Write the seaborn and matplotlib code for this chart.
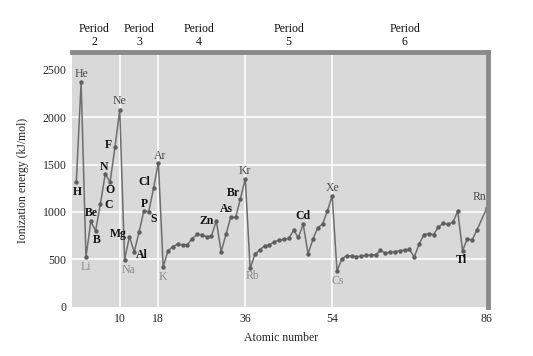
import matplotlib
matplotlib.use("Agg")
import matplotlib.pyplot as plt
import seaborn as sns
import pandas as pd

# ---- data ----
atomic_numbers = list(range(1, 85)) + [86]
symbols = ["H", "He", "Li", "Be", "B", "C", "N", "O", "F", "Ne",
           "Na", "Mg", "Al", "Si", "P", "S", "Cl", "Ar",
           "K", "Ca", "Sc", "Ti", "V", "Cr", "Mn", "Fe", "Co", "Ni", "Cu", "Zn",
           "Ga", "Ge", "As", "Se", "Br", "Kr",
           "Rb", "Sr", "Y", "Zr", "Nb", "Mo", "Tc", "Ru", "Rh", "Pd", "Ag", "Cd",
           "In", "Sn", "Sb", "Te", "I", "Xe",
           "Cs", "Ba", "La", "Ce", "Pr", "Nd", "Pm", "Sm", "Eu", "Gd", "Tb", "Dy",
           "Ho", "Er", "Tm", "Yb", "Lu", "Hf", "Ta", "W", "Re", "Os", "Ir", "Pt",
           "Au", "Hg", "Tl", "Pb", "Bi", "Po", "Rn"]
ionization_energy = [1312, 2372, 520, 899, 801, 1086, 1402, 1314, 1681, 2081,
                     496, 738, 578, 787, 1012, 1000, 1251, 1521,
                     419, 590, 633, 659, 651, 653, 717, 762, 760, 737, 746, 906,
                     579, 762, 947, 941, 1140, 1351,
                     403, 550, 600, 640, 652, 684, 702, 710, 720, 804, 731, 868,
                     558, 709, 834, 869, 1008, 1170,
                     376, 503, 538, 534, 527, 533, 540, 545, 547, 593, 566, 573,
                     581, 589, 597, 603, 524, 659, 761, 770, 760, 840, 880, 870,
                     890, 1007, 589, 716, 703, 812, 1037]

x_ticks = [10, 18, 36, 54, 86]
y_ticks = [0, 500, 1000, 1500, 2000, 2500]
period_labels = ["Period\n2", "Period\n3", "Period\n4", "Period\n5", "Period\n6"]
period_positions = [4.7, 14.0, 26.4, 45.0, 69.0]

# labelled elements: symbol, pixel offset (dx, dy), style group
labelled = {
    "H": ((1, -10), "other"), "He": ((0, 8), "noble"), "Li": ((0, -10), "alkali"),
    "Be": ((1, 8), "other"), "B": ((1, -9), "other"), "C": ((8, -1), "other"),
    "N": ((-1, 7), "other"), "O": ((0, -8), "other"), "F": ((-7, 2), "other"),
    "Ne": ((0, 9), "noble"), "Na": ((4, -10), "alkali"), "Mg": ((-11, 3), "other"),
    "Al": ((8, -3), "other"), "P": ((1, 7), "other"), "S": ((5, -7), "other"),
    "Cl": ((-9, 6), "other"), "Ar": ((2, 7), "noble"), "K": ((0, -10), "alkali"),
    "Zn": ((-10, 0), "other"), "As": ((-4, 8), "other"), "Br": ((-7, 6), "other"),
    "Kr": ((0, 8), "noble"), "Rb": ((2, -8), "alkali"), "Cd": ((0, 8), "other"),
    "Xe": ((0, 8), "noble"), "Cs": ((1, -10), "alkali"), "Tl": ((-1, -9), "other"),
    "Rn": ((-7, 11), "noble"),
}
styles = {"other": ("#111111", "bold"), "noble": ("#4a4a4a", "normal"),
          "alkali": ("#8c8c8c", "normal")}

df = pd.DataFrame({"Z": atomic_numbers, "IE": ionization_energy, "sym": symbols})

sns.set_style("darkgrid")
plt.rcParams["font.family"] = ["Liberation Serif", "DejaVu Serif"]

fig = plt.figure(figsize=(5.33, 3.56), dpi=100)
ax = fig.add_axes([72 / 533, 1 - 307 / 356, 416 / 533, 255 / 356])
ax.set_facecolor("#d9d9d9")

sns.lineplot(data=df, x="Z", y="IE", ax=ax, color="#6e6e6e", linewidth=1.1,
             marker="o", markersize=3.2, markeredgewidth=0,
             markerfacecolor="#5e5e5e")

ax.set_xlim(0.11, 86.27)
ax.set_ylim(-5, 2690)
ax.set_xticks(x_ticks)
ax.set_yticks(y_ticks)
ax.set_xticklabels([str(v) for v in x_ticks], fontsize=8.5)
ax.set_yticklabels([str(v) for v in y_ticks], fontsize=8.5)
ax.tick_params(length=0, pad=4)
ax.grid(True, color="white", linewidth=1.1)
ygl = ax.yaxis.get_gridlines()
ygl[0].set_visible(False)
ygl[-1].set_visible(False)
ax.xaxis.get_gridlines()[-1].set_visible(False)
ax.set_xlabel("")
ax.set_ylabel("")

for side in ["left", "bottom"]:
    ax.spines[side].set_visible(False)
for side in ["top", "right"]:
    ax.spines[side].set_visible(True)
    ax.spines[side].set_color("#8a8a8a")
    ax.spines[side].set_linewidth(3.5)

for _, row in df.iterrows():
    if row["sym"] in labelled:
        (dx, dy), grp = labelled[row["sym"]]
        col, wt = styles[grp]
        ax.annotate(row["sym"], (row["Z"], row["IE"]), xytext=(dx, dy),
                    textcoords="offset pixels", ha="center", va="center",
                    fontsize=8.5, color=col, fontweight=wt)

for lab, pos in zip(period_labels, period_positions):
    ax.annotate(lab, (pos, 1.065), xycoords=("data", "axes fraction"),
                ha="center", va="center", fontsize=8.5, color="#111111",
                linespacing=1.05, annotation_clip=False)

fig.text(281 / 533, 1 - 338 / 356, "Atomic number", ha="center", va="center",
         fontsize=8.5)
fig.text(23 / 533, 1 - 180 / 356, "Ionization energy (kJ/mol)", ha="center",
         va="center", rotation=90, fontsize=8.5)

fig.savefig("out.png", dpi=100)
